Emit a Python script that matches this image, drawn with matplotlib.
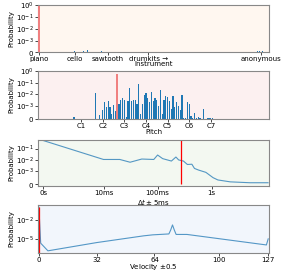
import matplotlib
matplotlib.use("Agg")
import matplotlib.pyplot as plt
from matplotlib.ticker import NullLocator

plt.rcParams['font.size'] = 5

# instrument distribution
inst_ids = [0, 26, 42, 48, 52, 57, 73, 75, 81, 128, 256, 259, 262]
inst_prob = [0.9, 1e-4, 1.2e-4, 1.5e-4, 1.2e-4, 2.3e-4, 1e-4, 1.4e-4, 1e-4, 8e-5, 9e-5, 9e-5, 7e-5]
inst_true = 0
inst_ticks = [0, 42, 81, 128, 261]
inst_labels = ['piano', 'cello', 'sawtooth', 'drumkits →', 'anonymous']

# pitch distribution
pitches = [20, 32, 34, 36, 37, 38, 39, 40, 41, 42, 43, 44, 45, 46, 47, 48, 49, 50,
           51, 52, 53, 54, 55, 56, 57, 58, 59, 60, 61, 62, 63, 64, 65, 66, 67, 68,
           69, 70, 71, 72, 73, 74, 75, 76, 77, 78, 79, 80, 81, 82, 83, 84, 85, 86,
           87, 88, 89, 90, 92, 94, 95, 96, 97]
pitch_prob = [1.6e-4, 1.2e-2, 3.3e-4, 7e-4, 2e-3, 9e-4, 2.5e-3, 9e-4, 3.5e-4, 1.2e-3,
              6e-4, 0.58, 1.5e-3, 3.2e-3, 4.5e-3, 3.6e-3, 1.5e-4, 2.5e-3,
              3.4e-2, 2.7e-3, 3.2e-3, 3.5e-3, 1.6e-3, 7.2e-2, 3.5e-4, 1.6e-3, 8e-3,
              1.2e-2, 4.5e-3, 2e-3, 1.7e-2, 2.6e-3, 5e-3, 3.5e-3, 1.1e-3, 2.5e-2,
              3.5e-4, 3e-3, 7e-3, 6.5e-3, 2.7e-3, 8e-4, 7e-3, 9e-4, 2.2e-3, 1e-3,
              7e-4, 8e-3, 1e-4, 1e-4, 2e-3, 1.6e-3, 2e-4, 8e-5, 4.5e-4, 5e-5,
              1.5e-4, 8e-5, 8e-4, 1e-4, 8e-5, 8e-5, 5e-5]
pitch_true = 44
pitch_ticks = [24, 36, 48, 60, 72, 84, 96]
pitch_labels = ['C1', 'C2', 'C3', 'C4', 'C5', 'C6', 'C7']

# time delta distribution (seconds)
dt = [0, 0.01, 0.02, 0.031, 0.051, 0.085, 0.1, 0.124, 0.18, 0.218, 0.245, 0.3,
      0.355, 0.43, 0.48, 0.57, 0.78, 1.06, 1.3, 2.2, 5.1, 11]
dt_prob = [0.5, 0.011, 0.011, 0.0063, 0.012, 0.011, 0.027, 0.013, 0.008, 0.018,
           0.01, 0.008, 0.004, 0.0042, 0.0018, 0.0013, 0.00092, 0.0005, 0.00032,
           0.00017, 0.0001, 0.0001]
dt_true = 0.27
dt_ticks = [0, 0.01, 0.1, 1]
dt_labels = ['0s', '10ms', '100ms', '1s']

# velocity distribution
vel = [0, 1, 5, 32, 58, 63, 72, 73, 74, 75, 76, 82, 126, 127]
vel_prob = [1.0, 2.1e-6, 1.3e-7, 2.6e-6, 3e-5, 4.3e-5, 6e-5, 2.5e-4, 1.6e-3,
            2.5e-4, 5e-5, 5e-5, 1.1e-6, 1e-5]
vel_true = 0
vel_ticks = [0, 32, 64, 100, 127]

fig = plt.figure(figsize=(2.99, 2.71), dpi=100)
L, W = 0.127, 0.773
ax1 = fig.add_axes([L, 0.808, W, 0.174])
ax2 = fig.add_axes([L, 0.561, W, 0.177])
ax3 = fig.add_axes([L, 0.314, W, 0.170])
ax4 = fig.add_axes([L, 0.068, W, 0.176])

bgs = ['#fff7f0', '#fcf0f0', '#f3f8f1', '#f2f6fc']
for ax, bg in zip([ax1, ax2, ax3, ax4], bgs):
    ax.set_facecolor(bg)
    for s in ax.spines.values():
        s.set_color('#888888')
        s.set_linewidth(0.8)
    ax.tick_params(length=2, width=0.5, pad=1, labelsize=5)
    ax.set_ylabel('Probability', labelpad=1)

# instrument
ax1.bar(inst_ids, inst_prob, width=0.8, color='C0')
ax1.bar(inst_true, inst_prob[inst_ids.index(inst_true)], width=3, color='#f08080', zorder=3)
ax1.set_yscale('symlog', linthresh=1e-3, linscale=0.8)
ax1.set_ylim(0, 1.1)
ax1.set_yticks([0, 1e-3, 1e-2, 1e-1, 1])
ax1.yaxis.set_minor_locator(NullLocator())
ax1.set_xlim(-1.2, 270)
ax1.set_xticks(inst_ticks)
ax1.set_xticklabels(inst_labels)
ax1.set_xlabel('Instrument')
ax1.xaxis.set_label_coords(0.5, -0.2)

# pitch
ax2.bar(pitches, pitch_prob, width=0.7, color='C0')
ax2.bar(pitch_true, pitch_prob[pitches.index(pitch_true)], width=1.1, color='#f08080', zorder=3)
ax2.set_yscale('symlog', linthresh=1e-3)
ax2.set_ylim(0, 1.0)
ax2.set_yticks([0, 1e-3, 1e-2, 1e-1, 1])
ax2.yaxis.set_minor_locator(NullLocator())
ax2.set_xlim(0, 128.4)
ax2.set_xticks(pitch_ticks)
ax2.set_xticklabels(pitch_labels)
ax2.set_xlabel('Pitch')
ax2.xaxis.set_label_coords(0.5, -0.2)

# time delta
ax3.plot(dt, dt_prob, color='C0', lw=0.8, alpha=0.75)
ax3.vlines(dt_true, 0, 1, color='red', lw=0.9)
ax3.set_xscale('symlog', linthresh=0.01)
ax3.set_yscale('symlog', linthresh=1e-3)
ax3.set_xlim(-0.0009, 11.5)
ax3.set_ylim(-1.5e-4, 0.58)
ax3.set_xticks(dt_ticks)
ax3.set_xticklabels(dt_labels)
ax3.set_yticks([0, 1e-3, 1e-2, 1e-1])
ax3.xaxis.set_minor_locator(NullLocator())
ax3.yaxis.set_minor_locator(NullLocator())
ax3.set_xlabel(r'$\Delta t \pm 5$ms')
ax3.xaxis.set_label_coords(0.5, -0.235)

# velocity
ax4.plot(vel, vel_prob, color='C0', lw=0.8, alpha=0.75)
ax4.vlines(vel_true, 1e-9, 1, color='red', lw=0.9)
ax4.set_yscale('log')
ax4.set_ylim(6.9e-8, 2.3)
ax4.set_yticks([1e-5, 1e-2])
ax4.yaxis.set_minor_locator(NullLocator())
ax4.set_xlim(-0.5, 127.5)
ax4.set_xticks(vel_ticks)
ax4.set_xlabel(r'Velocity $\pm$0.5')
ax4.xaxis.set_label_coords(0.5, -0.2)

fig.savefig('out.png', dpi=100)
